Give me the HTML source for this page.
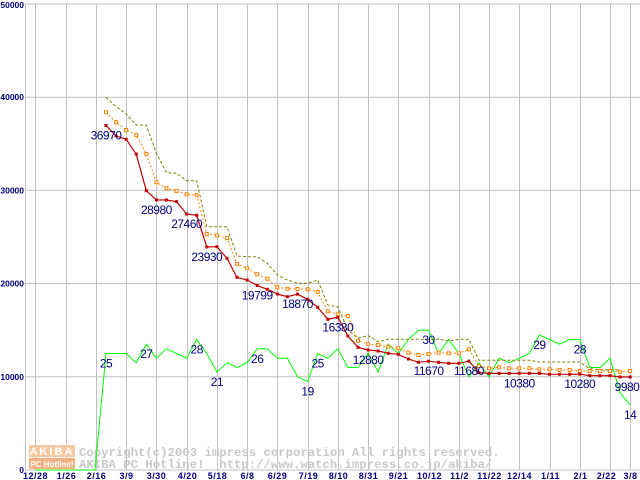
<!DOCTYPE html>
<html><head><meta charset="utf-8"><style>
html,body{margin:0;padding:0;background:#fff;width:640px;height:480px;overflow:hidden}
svg{display:block}
</style></head><body>
<svg id="chart" width="640" height="480" xmlns="http://www.w3.org/2000/svg">
<g id="grid"></g>
<g id="watermark">
  <rect x="29" y="445" width="46" height="12" fill="#f8c8a0"/>
  <text x="52" y="455" font-family="Liberation Sans, sans-serif" font-weight="bold" font-size="11" fill="#fff" text-anchor="middle" letter-spacing="2">AKIBA</text>
  <rect x="29" y="458" width="46" height="11" fill="#f4b080"/>
  <text x="52" y="467" font-family="Liberation Sans, sans-serif" font-weight="bold" font-size="8" fill="#fff" text-anchor="middle">PC Hotline!</text>
  <text x="79" y="456" font-family="Liberation Mono, monospace" font-weight="bold" font-size="12.3" fill="#c8c8c8">Copyright(c)2003 impress corporation All rights reserved.</text>
  <text x="79" y="468" font-family="Liberation Mono, monospace" font-weight="bold" font-size="12.3" fill="#c8c8c8" xml:space="preserve">AKIBA PC Hotline!  http://www.watch.impress.co.jp/akiba/</text>
</g>
<g id="series"></g>
<g id="labels"></g>
</svg>
<script>
const xTickLabels = ["12/28","1/26","2/16","3/9","3/30","4/20","5/18","6/8","6/29","7/19","8/10","8/31","9/21","10/12","11/2","11/22","12/14","1/11","2/1","2/22","3/8"];
const xTickIndex = [-7,-4,-1,2,5,8,11,14,17,20,23,26,29,32,35,38,41,44,47,50,52];
const yTicks = [0,10000,20000,30000,40000,50000];
const minPrice = [36970,35840,35480,33900,29970,28980,28970,28790,27460,27330,23930,23960,22710,20670,20390,19799,19390,18880,18590,18870,18320,17460,16170,16380,
 14380,13160,12880,12770,12520,12410,11910,11560,11670,11560,11450,11450,11680,10440,10370,10370,10370,10380,10370,10370,10270,10270,10270,10280,10120,10120,10120,9980,9980];
const avgPrice = [38380,37310,36480,35940,33900,30870,30230,29940,29580,29480,25320,25180,24890,22100,21640,21000,20530,19600,19450,19420,19390,19100,17030,16700,
 16520,13870,13520,13410,13230,13060,12590,12340,12450,12590,12520,12520,12950,11160,10910,11020,10910,10910,10910,10800,10800,10730,10730,10620,10620,10620,10620,10550,10620];
const maxPrice = [39990,38980,38200,37020,37020,33980,31900,31830,31040,31040,26100,26100,26100,22960,22890,22890,22180,20920,20390,20030,20030,20390,17700,17520,
 15020,14130,14410,13770,14020,14020,14020,14020,14020,14020,13840,14020,14020,11770,11770,11770,11770,11770,11770,11590,11590,11590,11590,11590,10870,10760,10760,10760];
const shopCount = [25,25,25,23,27,24,26,25,24,28,25,21,23,22,23,26,26,24,24,20,19,25,24,26,
 22,22,25,21,27,25,28,30,30,25,28,25,20,23,20,24,23,24,25,29,28,27,28,28,22,22,24,16.5,14];
const priceLabelIdx = [0,5,8,10,15,19,23,26,32,36,41,47,52];
const countLabelIdx = [0,4,9,11,15,20,21,32,43,47,52];

const NS="http://www.w3.org/2000/svg";
const X0=106, DX=10.08, Y0=470, YT=4;
const xs=i=>X0+i*DX;
const yp=v=>Y0-(Y0-YT)*v/50000;
const yc=c=>Y0-4.66*c;
function mk(tag,parent,attrs){const e=document.createElementNS(NS,tag);for(const k in attrs)e.setAttribute(k,attrs[k]);parent.appendChild(e);return e;}
const grid=document.getElementById('grid'), ser=document.getElementById('series'), lab=document.getElementById('labels');

yTicks.forEach(v=>{
  const l=mk('line',grid,{x1:25,x2:640,y1:yp(v),y2:yp(v),stroke:'#c0c0c0','stroke-width':1});
  
  
  const t=mk('text',grid,{x:24,y:Math.max(yp(v)+3,8),'text-anchor':'end','font-family':'Liberation Sans, sans-serif','font-weight':'bold','font-size':8.5,fill:'#000080'});
  t.textContent=String(v);
  
  
});
const ax=mk('line',grid,{x1:25.5,x2:25.5,y1:4,y2:470,stroke:'#c0c0c0','stroke-width':1});


xTickIndex.forEach((k,j)=>{
  const x=Math.round(xs(k))+0.5;
  const l=mk('line',grid,{x1:x,x2:x,y1:4,y2:470,stroke:'#c0c0c0','stroke-width':1});
  
  
  const t=mk('text',grid,{x:(j==19?x-4:x),y:479,'text-anchor':'middle','font-family':'Liberation Sans, sans-serif','font-weight':'bold','font-size':9,fill:'#000080','letter-spacing':'0.5'});
  t.textContent=xTickLabels[j];
  
  
});

function pts(arr,f){return arr.map((v,i)=>xs(i).toFixed(1)+','+f(v).toFixed(1)).join(' ');}
const gp='35,470 95,470 '+pts(shopCount,yc);
const g=mk('polyline',ser,{points:gp,fill:'none',stroke:'#00ff00','stroke-width':1});


const mx=mk('polyline',ser,{points:pts(maxPrice,yp),fill:'none',stroke:'#808000','stroke-width':1,'stroke-dasharray':'3,2'});


const av=mk('polyline',ser,{points:pts(avgPrice,yp),fill:'none',stroke:'#ff8000','stroke-width':1,'stroke-dasharray':'2,2'});


avgPrice.forEach((v,i)=>{
  const r=mk('rect',ser,{x:xs(i)-1.5,y:yp(v)-1.5,width:3,height:3,fill:'#fff',stroke:'#ff8000','stroke-width':1});
  
  
});
const mn=mk('polyline',ser,{points:pts(minPrice,yp),fill:'none',stroke:'#c00000','stroke-width':1.2});


minPrice.forEach((v,i)=>{
  const r=mk('rect',ser,{x:xs(i)-1.5,y:yp(v)-1.5,width:3,height:3,fill:'#c00000'});
  
  
});
priceLabelIdx.forEach(i=>{
  let x=xs(i); if(i==52) x=627;
  const t=mk('text',lab,{x:x,y:yp(minPrice[i])+14,'text-anchor':'middle','font-family':'Liberation Sans, sans-serif','font-size':12,fill:'#000080','letter-spacing':'-0.5'});
  t.textContent=String(minPrice[i]);
  
  
});
countLabelIdx.forEach(i=>{
  const t=mk('text',lab,{x:xs(i),y:yc(shopCount[i])+14,'text-anchor':'middle','font-family':'Liberation Sans, sans-serif','font-size':12,fill:'#000080','letter-spacing':'-0.5'});
  t.textContent=String(Math.round(shopCount[i]));
  
  
});
</script>
</body></html>
